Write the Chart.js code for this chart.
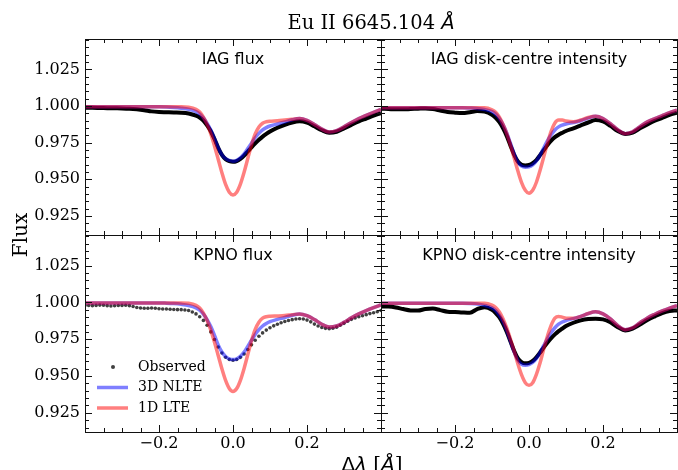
<!DOCTYPE html>
<html>
<head>
<meta charset="utf-8">
<script src="https://cdn.jsdelivr.net/npm/chart.js@4.4.1/dist/chart.umd.min.js"></script>
<style>
  html, body { margin: 0; padding: 0; background: #fff; }
  #fig { position: relative; width: 678px; height: 470px; overflow: hidden; background: #fff; }
  #fig canvas { position: absolute; left: 0; top: 0; }
</style>
</head>
<body>
<div id="fig">
  <canvas id="c0" width="678" height="470"></canvas>
  <canvas id="c1" width="678" height="470"></canvas>
  <canvas id="c2" width="678" height="470"></canvas>
  <canvas id="c3" width="678" height="470"></canvas>
</div>
<script>
// wavelength offsets (Angstrom) used by the model curves and line-type observations
const lam = [-0.40, -0.38, -0.36, -0.34, -0.32, -0.30, -0.28, -0.26, -0.24, -0.22, -0.20, -0.18, -0.16, -0.14, -0.12,
  -0.10, -0.09, -0.08, -0.07, -0.06, -0.05, -0.04, -0.03, -0.02, -0.01, 0.00, 0.01, 0.02, 0.03, 0.04, 0.05,
  0.06, 0.07, 0.08, 0.09, 0.10, 0.12, 0.14, 0.16, 0.18, 0.20, 0.22, 0.24, 0.26, 0.28, 0.30, 0.32, 0.34, 0.36, 0.38, 0.40];

// sampling of the KPNO flux spectrum (drawn as dots)
const lamObs = [-0.40, -0.39, -0.38, -0.37, -0.36, -0.35, -0.34, -0.33, -0.32, -0.31, -0.30, -0.29, -0.28, -0.27, -0.26,
  -0.25, -0.24, -0.23, -0.22, -0.21, -0.20, -0.19, -0.18, -0.17, -0.16, -0.15, -0.14, -0.13, -0.12, -0.11, -0.10,
  -0.09, -0.08, -0.07, -0.06, -0.05, -0.04, -0.03, -0.02, -0.01, 0.00, 0.01, 0.02, 0.03, 0.04, 0.05, 0.06, 0.07,
  0.08, 0.09, 0.10, 0.11, 0.12, 0.13, 0.14, 0.15, 0.16, 0.17, 0.18, 0.19, 0.20, 0.21, 0.22, 0.23, 0.24, 0.25, 0.26,
  0.27, 0.28, 0.29, 0.30, 0.31, 0.32, 0.33, 0.34, 0.35, 0.36, 0.37, 0.38, 0.39, 0.40];

// IAG flux
const iagFluxObs = [0.9988, 0.9988, 0.9987, 0.9986, 0.9985, 0.9984, 0.9982, 0.9978, 0.9972, 0.9964, 0.9960, 0.9958, 0.9956, 0.9955, 0.9950,
  0.9935, 0.9922, 0.9900, 0.9868, 0.9828, 0.9775, 0.9715, 0.9667, 0.9638, 0.9624, 0.9620, 0.9625, 0.9640, 0.9662, 0.9690, 0.9718,
  0.9745, 0.9770, 0.9792, 0.9810, 0.9826, 0.9852, 0.9872, 0.9888, 0.9896, 0.9887, 0.9862, 0.9835, 0.9818, 0.9825, 0.9848, 0.9872, 0.9895, 0.9915, 0.9935, 0.9952];
const iagFlux3D = [0.9995, 0.9995, 0.9995, 0.9995, 0.9995, 0.9995, 0.9995, 0.9995, 0.9995, 0.9995, 0.9995, 0.9994, 0.9991, 0.9986, 0.9978,
  0.9962, 0.9946, 0.9920, 0.9882, 0.9837, 0.9778, 0.9715, 0.9668, 0.9641, 0.9629, 0.9624, 0.9630, 0.9647, 0.9674, 0.9710, 0.9747,
  0.9784, 0.9814, 0.9837, 0.9853, 0.9864, 0.9878, 0.9892, 0.9907, 0.9915, 0.9903, 0.9875, 0.9843, 0.9823, 0.9832, 0.9858, 0.9888, 0.9915, 0.9937, 0.9958, 0.9978];
const iagFlux1D = [0.9995, 0.9995, 0.9995, 0.9995, 0.9995, 0.9995, 0.9995, 0.9995, 0.9995, 0.9995, 0.9995, 0.9995, 0.9995, 0.9995, 0.9992,
  0.9978, 0.9960, 0.9925, 0.9875, 0.9810, 0.9728, 0.9637, 0.9545, 0.9465, 0.9412, 0.9393, 0.9412, 0.9467, 0.9548, 0.9642, 0.9735,
  0.9810, 0.9858, 0.9883, 0.9893, 0.9897, 0.9900, 0.9905, 0.9910, 0.9915, 0.9903, 0.9875, 0.9843, 0.9823, 0.9832, 0.9858, 0.9888, 0.9915, 0.9937, 0.9958, 0.9978];

// IAG disk-centre intensity
const iagIntObs = [0.9982, 0.9980, 0.9978, 0.9978, 0.9980, 0.9982, 0.9984, 0.9980, 0.9970, 0.9960, 0.9955, 0.9952, 0.9958, 0.9966, 0.9962,
  0.9940, 0.9920, 0.9890, 0.9848, 0.9795, 0.9730, 0.9668, 0.9622, 0.9600, 0.9595, 0.9598, 0.9610, 0.9632, 0.9665, 0.9700, 0.9735,
  0.9765, 0.9788, 0.9805, 0.9818, 0.9830, 0.9848, 0.9868, 0.9888, 0.9905, 0.9895, 0.9865, 0.9830, 0.9810, 0.9818, 0.9848, 0.9875, 0.9900, 0.9920, 0.9940, 0.9955];
const iagInt3D = [0.9989, 0.9989, 0.9989, 0.9989, 0.9989, 0.9989, 0.9989, 0.9989, 0.9989, 0.9989, 0.9989, 0.9989, 0.9987, 0.9984, 0.9977,
  0.9962, 0.9945, 0.9915, 0.9872, 0.9815, 0.9745, 0.9672, 0.9617, 0.9590, 0.9583, 0.9585, 0.9598, 0.9625, 0.9665, 0.9715, 0.9765,
  0.9805, 0.9837, 0.9858, 0.9870, 0.9878, 0.9888, 0.9900, 0.9918, 0.9930, 0.9915, 0.9880, 0.9838, 0.9812, 0.9825, 0.9860, 0.9892, 0.9915, 0.9935, 0.9955, 0.9973];
const iagInt1D = [0.9989, 0.9989, 0.9989, 0.9989, 0.9989, 0.9989, 0.9989, 0.9989, 0.9989, 0.9989, 0.9989, 0.9989, 0.9989, 0.9989, 0.9989,
  0.9975, 0.9958, 0.9925, 0.9875, 0.9812, 0.9733, 0.9645, 0.9557, 0.9478, 0.9425, 0.9405, 0.9425, 0.9480, 0.9562, 0.9655, 0.9748,
  0.9830, 0.9885, 0.9905, 0.9905, 0.9898, 0.9893, 0.9905, 0.9922, 0.9930, 0.9915, 0.9880, 0.9838, 0.9812, 0.9825, 0.9860, 0.9892, 0.9915, 0.9935, 0.9955, 0.9973];

// KPNO flux
const kpnoFluxObs = [0.9980, 0.9979, 0.9978, 0.9980, 0.9982, 0.9981, 0.9978, 0.9976, 0.9977, 0.9979, 0.9980, 0.9981, 0.9978, 0.9972, 0.9966,
  0.9962, 0.9960, 0.9961, 0.9962, 0.9960, 0.9957, 0.9955, 0.9955, 0.9954, 0.9952, 0.9951, 0.9951, 0.9949, 0.9945, 0.9935, 0.9922,
  0.9903, 0.9878, 0.9845, 0.9800, 0.9748, 0.9697, 0.9657, 0.9628, 0.9612, 0.9607, 0.9612, 0.9627, 0.9650, 0.9680, 0.9712, 0.9743, 0.9770,
  0.9793, 0.9812, 0.9828, 0.9841, 0.9852, 0.9862, 0.9870, 0.9877, 0.9883, 0.9887, 0.9889, 0.9887, 0.9880, 0.9868, 0.9853, 0.9840, 0.9830, 0.9824, 0.9822,
  0.9825, 0.9832, 0.9845, 0.9858, 0.9872, 0.9885, 0.9895, 0.9903, 0.9910, 0.9917, 0.9924, 0.9930, 0.9937, 0.9945];
const kpnoFlux3D = [0.9997, 0.9997, 0.9997, 0.9997, 0.9997, 0.9997, 0.9997, 0.9997, 0.9997, 0.9997, 0.9997, 0.9995, 0.9992, 0.9987, 0.9979,
  0.9963, 0.9947, 0.9921, 0.9883, 0.9836, 0.9776, 0.9712, 0.9663, 0.9633, 0.9617, 0.9612, 0.9617, 0.9634, 0.9663, 0.9702, 0.9743,
  0.9783, 0.9815, 0.9840, 0.9857, 0.9869, 0.9885, 0.9898, 0.9913, 0.9922, 0.9910, 0.9884, 0.9852, 0.9833, 0.9840, 0.9865, 0.9895, 0.9922, 0.9945, 0.9965, 0.9983];
const kpnoFlux1D = [0.9997, 0.9997, 0.9997, 0.9997, 0.9997, 0.9997, 0.9997, 0.9997, 0.9997, 0.9997, 0.9997, 0.9997, 0.9997, 0.9997, 0.9994,
  0.9980, 0.9962, 0.9927, 0.9877, 0.9812, 0.9730, 0.9640, 0.9549, 0.9470, 0.9415, 0.9395, 0.9415, 0.9471, 0.9552, 0.9646, 0.9740,
  0.9817, 0.9866, 0.9893, 0.9903, 0.9906, 0.9908, 0.9911, 0.9917, 0.9922, 0.9910, 0.9884, 0.9852, 0.9833, 0.9840, 0.9865, 0.9895, 0.9922, 0.9945, 0.9965, 0.9983];

// KPNO disk-centre intensity
const kpnoIntObs = [0.9973, 0.9972, 0.9966, 0.9955, 0.9946, 0.9945, 0.9955, 0.9958, 0.9948, 0.9937, 0.9935, 0.9932, 0.9930, 0.9955, 0.9968,
  0.9950, 0.9928, 0.9898, 0.9855, 0.9800, 0.9735, 0.9670, 0.9620, 0.9595, 0.9587, 0.9590, 0.9603, 0.9628, 0.9660, 0.9695, 0.9728,
  0.9758, 0.9783, 0.9805, 0.9823, 0.9840, 0.9862, 0.9878, 0.9887, 0.9890, 0.9885, 0.9865, 0.9832, 0.9810, 0.9822, 0.9850, 0.9880, 0.9905, 0.9928, 0.9942, 0.9945];
const kpnoInt3D = [0.9995, 0.9995, 0.9995, 0.9995, 0.9995, 0.9995, 0.9995, 0.9995, 0.9995, 0.9995, 0.9995, 0.9995, 0.9993, 0.9989, 0.9980,
  0.9963, 0.9945, 0.9913, 0.9868, 0.9808, 0.9735, 0.9662, 0.9607, 0.9580, 0.9574, 0.9578, 0.9592, 0.9620, 0.9660, 0.9708, 0.9755,
  0.9795, 0.9828, 0.9852, 0.9867, 0.9877, 0.9890, 0.9905, 0.9924, 0.9936, 0.9922, 0.9888, 0.9843, 0.9815, 0.9828, 0.9862, 0.9895, 0.9920, 0.9942, 0.9962, 0.9978];
const kpnoInt1D = [0.9995, 0.9995, 0.9995, 0.9995, 0.9995, 0.9995, 0.9995, 0.9995, 0.9995, 0.9995, 0.9995, 0.9995, 0.9995, 0.9995, 0.9995,
  0.9982, 0.9966, 0.9935, 0.9888, 0.9825, 0.9750, 0.9668, 0.9582, 0.9508, 0.9455, 0.9437, 0.9455, 0.9512, 0.9590, 0.9685, 0.9772,
  0.9845, 0.9893, 0.9905, 0.9900, 0.9893, 0.9892, 0.9905, 0.9925, 0.9936, 0.9922, 0.9888, 0.9843, 0.9815, 0.9828, 0.9862, 0.9895, 0.9920, 0.9942, 0.9962, 0.9978];

const panelTitles = ['IAG flux', 'IAG disk-centre intensity', 'KPNO flux', 'KPNO disk-centre intensity'];
const seriesNames = ['Observed', '3D NLTE', '1D LTE'];
const xTicks = [-0.2, 0.0, 0.2];
const yTicks = [0.925, 0.950, 0.975, 1.000, 1.025];

const W = 678, H = 470;
const BLUE = 'rgba(0,0,255,0.5)';
const RED = 'rgba(255,0,0,0.5)';
const DOT = 'rgba(30,30,30,0.85)';
const SERIF = '"DejaVu Serif", serif';
const SANS = '"DejaVu Sans", sans-serif';

// minor tick positions
const xMinor = [];
for (let v = -0.35; v < 0.36; v += 0.05) xMinor.push(+v.toFixed(2));
const yMinor = [];
for (let v = 0.915; v < 1.046; v += 0.005) yMinor.push(+v.toFixed(3));

function pts(xs, ys) {
  return xs.map((x, i) => ({ x: x, y: ys[i] }));
}

function fmtX(v) {
  if (Math.abs(v) < 1e-9) return '0.0';
  return (v < 0 ? '\u2212' : '') + Math.abs(v).toFixed(1);
}

// frame, inward ticks on all four sides, and the panel label
const framePlugin = {
  id: 'frame',
  afterDatasetsDraw(chart, args, opts) {
    const { ctx, chartArea: a } = chart;
    const xs = chart.scales.x, ys = chart.scales.y;
    ctx.save();
    ctx.strokeStyle = '#111';
    ctx.lineWidth = 1;
    ctx.strokeRect(a.left + 0.5, a.top + 0.5, a.right - a.left, a.bottom - a.top);
    ctx.beginPath();
    xMinor.forEach(v => {
      const major = xTicks.some(t => Math.abs(t - v) < 1e-6);
      const len = major ? 7 : 4;
      const px = Math.round(xs.getPixelForValue(v)) + 0.5;
      ctx.moveTo(px, a.bottom); ctx.lineTo(px, a.bottom - len);
      ctx.moveTo(px, a.top); ctx.lineTo(px, a.top + len);
    });
    yMinor.forEach(v => {
      const major = yTicks.some(t => Math.abs(t - v) < 1e-6);
      const len = major ? 7 : 4;
      const py = Math.round(ys.getPixelForValue(v)) + 0.5;
      ctx.moveTo(a.left, py); ctx.lineTo(a.left + len, py);
      ctx.moveTo(a.right, py); ctx.lineTo(a.right - len, py);
    });
    ctx.stroke();
    ctx.fillStyle = '#000';
    ctx.font = '16px ' + SANS;
    ctx.textAlign = 'center';
    ctx.textBaseline = 'alphabetic';
    ctx.fillText(opts.title, (a.left + a.right) / 2, a.top + 25);
    ctx.restore();
  }
};

function drawRuns(ctx, runs, cx, y) {
  let total = 0;
  runs.forEach(r => { ctx.font = r.font; r.w = ctx.measureText(r.text).width; total += r.w; });
  let x = cx - total / 2;
  ctx.textAlign = 'left';
  runs.forEach(r => { ctx.font = r.font; ctx.fillText(r.text, x, y); x += r.w; });
}

// figure title, common axis labels
const figTextPlugin = {
  id: 'figText',
  afterDraw(chart) {
    const ctx = chart.ctx;
    ctx.save();
    ctx.fillStyle = '#000';
    ctx.textBaseline = 'alphabetic';
    drawRuns(ctx, [
      { text: 'Eu II 6645.104 ', font: '19.5px ' + SERIF },
      { text: '\u00c5', font: 'italic 19.5px ' + SANS }
    ], 371, 29);
    drawRuns(ctx, [
      { text: '\u0394', font: '20px ' + SANS },
      { text: '\u03bb', font: 'italic 20px ' + SANS },
      { text: ' [', font: '20px ' + SERIF },
      { text: '\u00c5', font: 'italic 20px ' + SANS },
      { text: ']', font: '20px ' + SERIF }
    ], 372, 471);
    ctx.translate(27, 235);
    ctx.rotate(-Math.PI / 2);
    ctx.textAlign = 'center';
    ctx.font = '20px ' + SERIF;
    ctx.fillText('Flux', 0, 0);
    ctx.restore();
  }
};

// legend in the KPNO flux panel
const legendPlugin = {
  id: 'panelLegend',
  afterDatasetsDraw(chart) {
    const { ctx, chartArea: a } = chart;
    const ds = chart.data.datasets;
    ctx.save();
    ctx.font = '14px ' + SERIF;
    ctx.textAlign = 'left';
    ctx.textBaseline = 'middle';
    const rows = [a.top + 132, a.top + 152.5, a.top + 173];
    // observed marker
    ctx.beginPath();
    ctx.arc(a.left + 28, rows[0], 2, 0, Math.PI * 2);
    ctx.fillStyle = DOT;
    ctx.fill();
    ctx.fillStyle = '#000';
    ctx.fillText(ds[0].label, a.left + 53, rows[0]);
    [1, 2].forEach(k => {
      ctx.beginPath();
      ctx.strokeStyle = ds[k].borderColor;
      ctx.lineWidth = 3.5;
      ctx.moveTo(a.left + 12, rows[k]);
      ctx.lineTo(a.left + 43, rows[k]);
      ctx.stroke();
      ctx.fillText(ds[k].label, a.left + 53, rows[k]);
    });
    ctx.restore();
  }
};

const panels = [
  { id: 'c0', title: panelTitles[0], obsX: lam, obs: iagFluxObs, nlte: iagFlux3D, lte: iagFlux1D, dots: false,
    left: 85, right: 381, top: 39, bottom: 235, showX: false, showY: true },
  { id: 'c1', title: panelTitles[1], obsX: lam, obs: iagIntObs, nlte: iagInt3D, lte: iagInt1D, dots: false,
    left: 381, right: 677, top: 39, bottom: 235, showX: false, showY: false },
  { id: 'c2', title: panelTitles[2], obsX: lamObs, obs: kpnoFluxObs, nlte: kpnoFlux3D, lte: kpnoFlux1D, dots: true,
    left: 85, right: 381, top: 235, bottom: 432, showX: true, showY: true },
  { id: 'c3', title: panelTitles[3], obsX: lam, obs: kpnoIntObs, nlte: kpnoInt3D, lte: kpnoInt1D, dots: false,
    left: 381, right: 677, top: 235, bottom: 432, showX: true, showY: false }
];

panels.forEach((p, n) => {
  const yw = p.showY ? 85 : 0;
  const xh = p.showX ? 38 : 0;
  const obsSet = p.dots
    ? { label: seriesNames[0], data: pts(p.obsX, p.obs), showLine: false, pointRadius: 1.8,
        pointBackgroundColor: DOT, pointBorderWidth: 0, order: 3 }
    : { label: seriesNames[0], data: pts(p.obsX, p.obs), borderColor: '#000', borderWidth: 4,
        pointRadius: 0, cubicInterpolationMode: 'monotone', order: 3 };
  const plugins = [framePlugin];
  if (n === 0) plugins.push(figTextPlugin);
  if (n === 2) plugins.push(legendPlugin);

  new Chart(document.getElementById(p.id), {
    type: 'line',
    data: {
      datasets: [
        obsSet,
        { label: seriesNames[1], data: pts(lam, p.nlte), borderColor: BLUE, borderWidth: 3.5,
          pointRadius: 0, cubicInterpolationMode: 'monotone', order: 2 },
        { label: seriesNames[2], data: pts(lam, p.lte), borderColor: RED, borderWidth: 3.5,
          pointRadius: 0, cubicInterpolationMode: 'monotone', order: 1 }
      ]
    },
    plugins: plugins,
    options: {
      responsive: false,
      animation: false,
      devicePixelRatio: 1,
      layout: { padding: { left: p.left - yw, right: W - p.right, top: p.top, bottom: H - p.bottom - xh } },
      plugins: {
        legend: { display: false },
        tooltip: { enabled: false },
        frame: { title: p.title }
      },
      scales: {
        x: {
          type: 'linear', min: -0.4, max: 0.4,
          grid: { display: false, drawTicks: false },
          border: { display: false },
          ticks: { display: p.showX, autoSkip: false, maxRotation: 0, padding: 2, color: '#000',
                   font: { family: SERIF, size: 16 }, callback: fmtX },
          afterBuildTicks: s => { s.ticks = xTicks.map(v => ({ value: v })); },
          afterFit: s => { s.height = xh; }
        },
        y: {
          type: 'linear', min: 0.912, max: 1.0458,
          grid: { display: false, drawTicks: false },
          border: { display: false },
          ticks: { display: p.showY, autoSkip: false, padding: 5, color: '#000',
                   font: { family: SERIF, size: 16 }, callback: v => v.toFixed(3) },
          afterBuildTicks: s => { s.ticks = yTicks.map(v => ({ value: v })); },
          afterFit: s => { s.width = yw; }
        }
      }
    }
  });
});
</script>
</body>
</html>
